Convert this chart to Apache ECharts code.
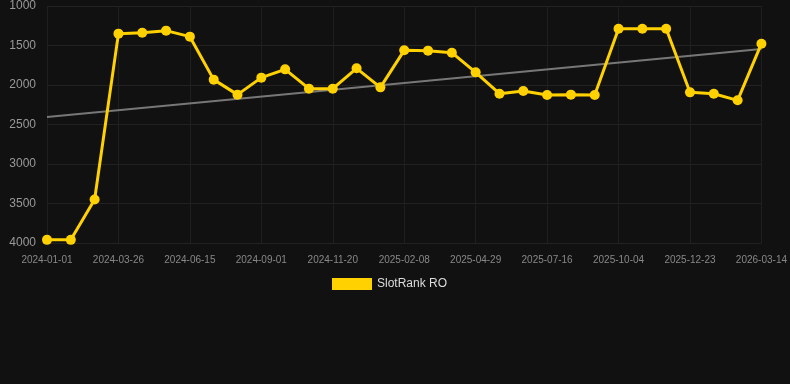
<!DOCTYPE html>
<html>
<head>
<meta charset="utf-8">
<script src="https://cdn.jsdelivr.net/npm/echarts@6/dist/echarts.min.js"></script>
<style>
  html, body { margin: 0; padding: 0; background: #111111; }
  #main { width: 790px; height: 384px; }
</style>
</head>
<body>
<div id="main"></div>
<script>
var myChart = echarts.init(document.getElementById('main'));

// dates of each rank sample (only every third one is labelled on the axis)
var dates = ['2024-01-01','2024-01-29','2024-02-27','2024-03-26','2024-04-22','2024-05-19',
  '2024-06-15','2024-07-11','2024-08-06','2024-09-01','2024-09-27','2024-10-24',
  '2024-11-20','2024-12-16','2025-01-12','2025-02-08','2025-03-06','2025-04-02',
  '2025-04-29','2025-05-24','2025-06-19','2025-07-16','2025-08-11','2025-09-07',
  '2025-10-04','2025-10-30','2025-11-26','2025-12-23','2026-01-18','2026-02-15',
  '2026-03-14'];
var ranks = [3960, 3960, 3450, 1350, 1338, 1312, 1388, 1932, 2122, 1907, 1802, 2046,
  2046, 1789, 2030, 1561, 1565, 1591, 1840, 2110, 2076, 2127, 2122, 2127,
  1287, 1287, 1287, 2093, 2110, 2194, 1477];
// trend line ends
var trendEnds = [2405, 1545];
var yTicks = { min: 1000, max: 4000, step: 500 };

var option = {
    backgroundColor: '#111111',
    animation: false,
    grid: { left: 47, right: 28, top: 6, bottom: 141 },
    legend: {
        top: 273,
        left: 327,
        itemWidth: 40,
        itemHeight: 12,
        itemGap: 10,
        textStyle: { color: '#dddddd', fontSize: 12 },
        data: [{ name: 'SlotRank RO', icon: 'rect' }]
    },
    xAxis: {
        type: 'category',
        boundaryGap: false,
        data: dates,
        axisLine: { show: false },
        axisTick: { show: false },
        axisLabel: { color: '#888888', fontSize: 10, interval: 2, margin: 12 },
        splitLine: { show: true, interval: 2, lineStyle: { color: '#1f1f1f' } }
    },
    yAxis: {
        type: 'value',
        inverse: true,
        min: yTicks.min,
        max: yTicks.max,
        interval: yTicks.step,
        axisLine: { show: false },
        axisTick: { show: false },
        axisLabel: {
            color: '#999999', fontSize: 12, margin: 11,
            formatter: function (v) { return String(v); }
        },
        splitLine: { lineStyle: { color: '#222222' } }
    },
    series: [{
        name: 'Trend',
        type: 'line',
        data: [[dates[0], trendEnds[0]], [dates[dates.length - 1], trendEnds[1]]],
        symbol: 'none',
        lineStyle: { color: '#777777', width: 2 },
        z: 1
    }, {
        name: 'SlotRank RO',
        type: 'line',
        data: ranks,
        symbol: 'circle',
        symbolSize: 10,
        itemStyle: { color: '#ffd100' },
        lineStyle: { color: '#ffd100', width: 3 },
        z: 2
    }]
};
myChart.setOption(option);
</script>
</body>
</html>
